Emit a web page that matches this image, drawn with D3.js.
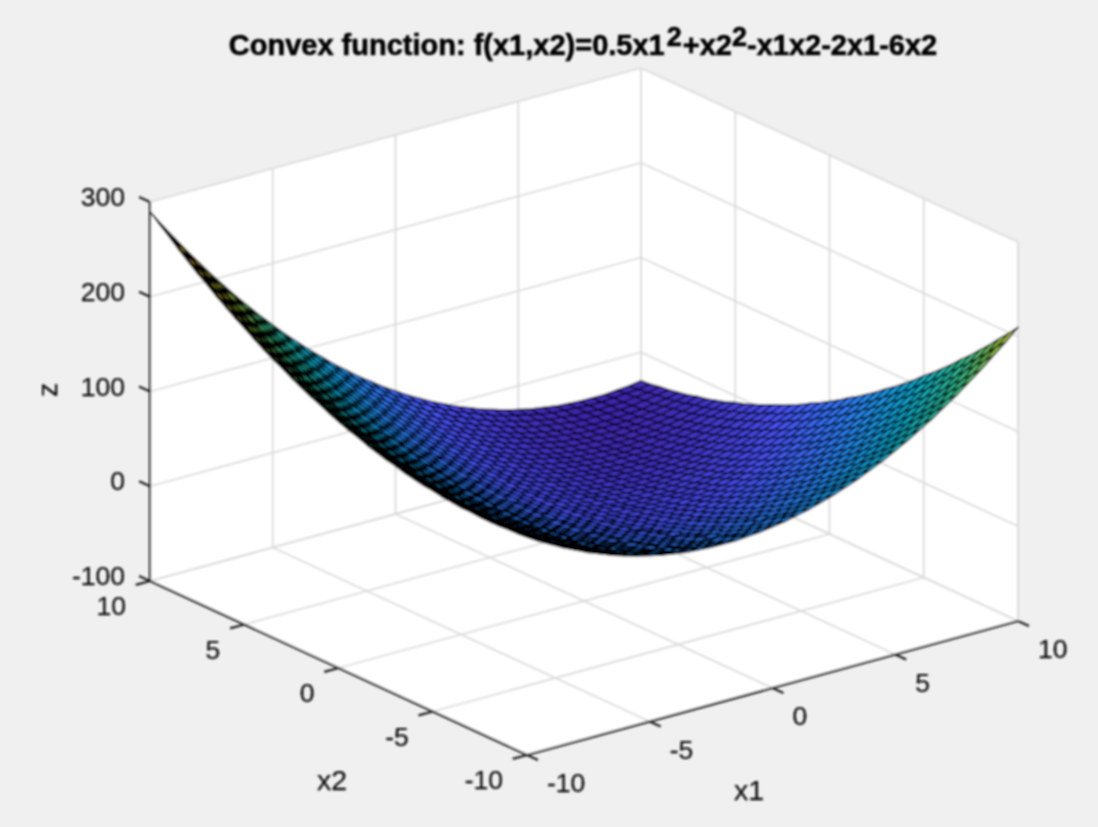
<!DOCTYPE html>
<html><head><meta charset="utf-8">
<script src="https://cdn.jsdelivr.net/npm/d3@7"></script>
<style>html,body{margin:0;padding:0;background:#f0f0f0;overflow:hidden}svg{display:block}text{font-family:"Liberation Sans",Arial,sans-serif}</style>
</head><body>
<script>
const x1Ticks = [-10,-5,0,5,10];
const x2Ticks = [-10,-5,0,5,10];
const zTicks = [-100,0,100,200,300];
const x1Grid = [-10,-9.5,-9,-8.5,-8,-7.5,-7,-6.5,-6,-5.5,-5,-4.5,-4,-3.5,-3,-2.5,-2,-1.5,-1,-0.5,0,0.5,1,1.5,2,2.5,3,3.5,4,4.5,5,5.5,6,6.5,7,7.5,8,8.5,9,9.5,10];
const x2Grid = x1Grid.slice();
// Surface heights: one row per x2 value (-10 to 10), one column per x1 value (-10 to 10)
const zRows = [
[130,122,115,108,102,96,91,86,82,78,75,72,70,68,67,66,66,66,67,68,70,72,75,78,82,86,91,96,102,108,115,122,130,138,147,156,166,176,187,198,210],
[129,121,114,107,100,94,89,84,79,75,72,69,66,64,63,62,61,61,62,63,64,66,69,72,75,79,84,89,94,100,107,114,121,129,138,147,156,166,177,188,199],
[129,120,113,105,99,92,87,81,77,72,69,65,63,60,59,57,57,56,57,57,59,60,63,65,69,72,77,81,87,92,99,105,113,120,129,137,147,156,167,177,189],
[128,120,112,104,97,91,85,79,74,70,66,62,59,57,55,53,52,52,52,52,53,55,57,59,62,66,70,74,79,85,91,97,104,112,120,128,137,147,157,167,178],
[128,119,111,103,96,89,83,77,72,67,63,59,56,53,51,49,48,47,47,47,48,49,51,53,56,59,63,67,72,77,83,89,96,103,111,119,128,137,147,157,168],
[128,119,111,103,95,88,82,76,70,65,61,57,53,50,48,46,44,43,43,43,43,44,46,48,50,53,57,61,65,70,76,82,88,95,103,111,119,128,138,148,158],
[129,119,111,102,95,87,81,74,69,63,59,54,51,47,45,42,41,39,39,38,39,39,41,42,45,47,51,54,59,63,69,74,81,87,95,102,111,119,129,138,149],
[129,120,111,102,94,87,80,73,67,62,57,52,48,45,42,39,37,36,35,34,34,35,36,37,39,42,45,48,52,57,62,67,73,80,87,94,102,111,120,129,139],
[130,120,111,102,94,86,79,72,66,60,55,50,46,42,39,36,34,32,31,30,30,30,31,32,34,36,39,42,46,50,55,60,66,72,79,86,94,102,111,120,130],
[131,121,112,103,94,86,79,72,65,59,54,49,44,40,37,34,31,29,28,27,26,26,27,28,29,31,34,37,40,44,49,54,59,65,72,79,86,94,103,112,121],
[133,122,113,103,95,86,79,71,65,58,53,47,43,38,35,31,29,26,25,23,23,22,23,23,25,26,29,31,35,38,43,47,53,58,65,71,79,86,95,103,113],
[134,124,114,104,95,87,79,71,64,58,52,46,41,37,33,29,26,24,22,20,19,19,19,19,20,22,24,26,29,33,37,41,46,52,58,64,71,79,87,95,104],
[136,125,115,105,96,87,79,71,64,57,51,45,40,35,31,27,24,21,19,17,16,15,15,15,16,17,19,21,24,27,31,35,40,45,51,57,64,71,79,87,96],
[138,127,117,107,97,88,80,72,64,57,51,45,39,34,30,26,22,19,17,15,13,12,12,12,12,13,15,17,19,22,26,30,34,39,45,51,57,64,72,80,88],
[141,129,119,108,99,89,81,72,65,57,51,44,39,33,29,24,21,17,15,12,11,9,9,8,9,9,11,12,15,17,21,24,29,33,39,44,51,57,65,72,81],
[143,132,121,110,100,91,82,73,65,58,51,44,38,33,28,23,19,16,13,10,8,7,6,5,5,6,7,8,10,13,16,19,23,28,33,38,44,51,58,65,73],
[146,134,123,112,102,92,83,74,66,58,51,44,38,32,27,22,18,14,11,8,6,4,3,2,2,2,3,4,6,8,11,14,18,22,27,32,38,44,51,58,66],
[149,137,126,115,104,94,85,76,67,59,52,45,38,32,27,22,17,13,10,7,4,2,1,0,-1,-1,0,1,2,4,7,10,13,17,22,27,32,38,45,52,59],
[153,140,129,117,107,96,87,77,69,60,53,45,39,32,27,21,17,12,9,5,3,0,-1,-3,-3,-4,-3,-3,-1,0,3,5,9,12,17,21,27,32,39,45,53],
[156,144,132,120,109,99,89,79,70,62,54,46,39,33,27,21,16,12,8,4,1,-1,-3,-5,-6,-6,-6,-6,-5,-3,-1,1,4,8,12,16,21,27,33,39,46],
[160,147,135,123,112,101,91,81,72,63,55,47,40,33,27,21,16,11,7,3,0,-3,-5,-7,-8,-9,-9,-9,-8,-7,-5,-3,0,3,7,11,16,21,27,33,40],
[164,151,139,127,115,104,94,84,74,65,57,49,41,34,28,22,16,11,7,3,-1,-4,-6,-8,-10,-11,-11,-11,-11,-10,-8,-6,-4,-1,3,7,11,16,22,28,34],
[169,155,143,130,119,107,97,86,77,67,59,50,43,35,29,22,17,11,7,2,-1,-5,-7,-10,-11,-13,-13,-14,-13,-13,-11,-10,-7,-5,-1,2,7,11,17,22,29],
[173,160,147,134,122,111,100,89,79,70,61,52,44,37,30,23,17,12,7,2,-2,-5,-8,-11,-13,-14,-15,-16,-16,-15,-14,-13,-11,-8,-5,-2,2,7,12,17,23],
[178,164,151,138,126,114,103,92,82,72,63,54,46,38,31,24,18,12,7,2,-2,-6,-9,-12,-14,-16,-17,-18,-18,-18,-17,-16,-14,-12,-9,-6,-2,2,7,12,18],
[183,169,156,143,130,118,107,96,85,75,66,57,48,40,33,26,19,13,8,3,-2,-6,-9,-12,-15,-17,-18,-19,-20,-20,-19,-18,-17,-15,-12,-9,-6,-2,3,8,13],
[189,174,161,147,135,122,111,99,89,78,69,59,51,42,35,27,21,14,9,3,-1,-6,-9,-13,-15,-18,-19,-21,-21,-22,-21,-21,-19,-18,-15,-13,-9,-6,-1,3,9],
[194,180,166,152,139,127,115,103,92,82,72,62,53,45,37,29,22,16,10,4,-1,-5,-9,-13,-16,-18,-20,-22,-23,-23,-23,-23,-22,-20,-18,-16,-13,-9,-5,-1,4],
[200,185,171,157,144,131,119,107,96,85,75,65,56,47,39,31,24,17,11,5,0,-5,-9,-13,-16,-19,-21,-23,-24,-25,-25,-25,-24,-23,-21,-19,-16,-13,-9,-5,0],
[206,191,177,163,149,136,124,112,100,89,79,69,59,50,42,34,26,19,13,7,1,-4,-8,-12,-16,-19,-21,-23,-25,-26,-26,-26,-26,-25,-23,-21,-19,-16,-12,-8,-4],
[213,197,183,168,155,141,129,116,105,93,83,72,63,53,45,36,29,21,15,8,3,-3,-7,-12,-15,-19,-21,-24,-25,-27,-27,-28,-27,-27,-25,-24,-21,-19,-15,-12,-7],
[219,204,189,174,160,147,134,121,109,98,87,76,66,57,48,39,31,24,17,10,4,-1,-6,-11,-15,-18,-21,-24,-26,-27,-28,-29,-29,-28,-27,-26,-24,-21,-18,-15,-11],
[226,210,195,180,166,152,139,126,114,102,91,80,70,60,51,42,34,26,19,12,6,0,-5,-10,-14,-18,-21,-24,-26,-28,-29,-30,-30,-30,-29,-28,-26,-24,-21,-18,-14],
[233,217,202,187,172,158,145,132,119,107,96,85,74,64,55,46,37,29,22,15,8,2,-3,-8,-13,-17,-20,-23,-26,-28,-29,-30,-31,-31,-30,-29,-28,-26,-23,-20,-17],
[241,224,209,193,179,164,151,137,125,112,101,89,79,68,59,49,41,32,25,17,11,4,-1,-7,-11,-16,-19,-23,-25,-28,-29,-31,-31,-32,-31,-31,-29,-28,-25,-23,-19],
[248,232,216,200,185,171,157,143,130,118,106,94,83,73,63,53,44,36,28,20,13,7,1,-5,-10,-14,-18,-22,-25,-27,-29,-31,-32,-32,-32,-32,-31,-29,-27,-25,-22],
[256,239,223,207,192,177,163,149,136,123,111,99,88,77,67,57,48,39,31,23,16,9,3,-3,-8,-13,-17,-21,-24,-27,-29,-31,-32,-33,-33,-33,-32,-31,-29,-27,-24],
[264,247,231,215,199,184,170,156,142,129,117,105,93,82,72,62,52,43,35,27,19,12,6,0,-6,-11,-15,-19,-23,-26,-28,-30,-32,-33,-33,-33,-33,-32,-30,-28,-26],
[273,255,239,222,207,191,177,162,149,135,123,110,99,87,77,66,57,47,39,30,23,15,9,2,-3,-9,-13,-18,-21,-25,-27,-30,-31,-33,-33,-34,-33,-33,-31,-30,-27],
[281,264,247,230,214,199,184,169,155,142,129,116,104,93,82,71,61,52,43,34,26,19,12,5,-1,-6,-11,-16,-20,-23,-26,-29,-31,-32,-33,-34,-34,-33,-32,-31,-29],
[290,272,255,238,222,206,191,176,162,148,135,122,110,98,87,76,66,56,47,38,30,22,15,8,2,-4,-9,-14,-18,-22,-25,-28,-30,-32,-33,-34,-34,-34,-33,-32,-30]
];
const parulaStops = ["#3e26a8","#4852f4","#2d87f7","#12b1d6","#37c897","#abc739","#fec338","#f9fb15"];

const W = 1098, H = 827;
// orthographic projection of the three axes, expressed as scales (pixel offsets from the -10,-10 corner)
const x1ToX = d3.scaleLinear().domain([-10,10]).range([0,491]);
const x1ToY = d3.scaleLinear().domain([-10,10]).range([0,-134]);
const x2ToX = d3.scaleLinear().domain([-10,10]).range([0,-377]);
const x2ToY = d3.scaleLinear().domain([-10,10]).range([0,-174]);
const zToY  = d3.scaleLinear().domain([-100,300]).range([0,-379]);
const originX = 527, originY = 755;
const px = (a,b,c) => [originX + x1ToX(a) + x2ToX(b), originY + x1ToY(a) + x2ToY(b) + zToY(c)];

const zFlat = zRows.flat();
const color = d3.scaleLinear()
  .domain(d3.range(parulaStops.length).map(i => d3.min(zFlat) + (d3.max(zFlat)-d3.min(zFlat))*i/(parulaStops.length-1)))
  .range(parulaStops).interpolate(d3.interpolateRgb);

const svg = d3.select("body").append("svg").attr("width",W).attr("height",H);
const defs = svg.append("defs");
const soft = (id, sd) => defs.append("filter").attr("id",id)
  .attr("filterUnits","userSpaceOnUse").attr("x",0).attr("y",0).attr("width",W).attr("height",H)
  .append("feGaussianBlur").attr("stdDeviation",sd);
soft("softMark",0.85);
soft("softText",0.85);
const root = svg.append("g");
root.append("rect").attr("width",W).attr("height",H).attr("fill","#f0f0f0");
const marks = root.append("g").attr("filter","url(#softMark)");
const texts = root.append("g").attr("filter","url(#softText)");

const line = d3.line();
// white walls and floor
marks.append("path").attr("fill","#fff").attr("d", line([
  px(-10,10,-100), px(-10,10,300), px(10,10,300), px(10,-10,300), px(10,-10,-100), px(-10,-10,-100)
])+"Z");

// grid
const gridG = marks.append("g").attr("fill","none").attr("stroke","#dadada").attr("stroke-width",1.8);
const seg = (a,b) => gridG.append("path").attr("d", line([a,b]));
x1Ticks.forEach(t => { seg(px(t,-10,-100),px(t,10,-100)); seg(px(t,10,-100),px(t,10,300)); });
x2Ticks.forEach(t => { seg(px(-10,t,-100),px(10,t,-100)); seg(px(10,t,-100),px(10,t,300)); });
zTicks.forEach(t => { seg(px(-10,10,t),px(10,10,t)); seg(px(10,10,t),px(10,-10,t)); });

// surface, painted from the far corner to the near corner
const surf = marks.append("g").attr("stroke","#000").attr("stroke-width",1.3).attr("stroke-linejoin","round");
for (let j = x2Grid.length-2; j >= 0; j--) {
  for (let i = x1Grid.length-2; i >= 0; i--) {
    surf.append("path")
      .attr("fill", color(zRows[j][i]))
      .attr("d", line([
        px(x1Grid[i],x2Grid[j],zRows[j][i]),
        px(x1Grid[i+1],x2Grid[j],zRows[j][i+1]),
        px(x1Grid[i+1],x2Grid[j+1],zRows[j+1][i+1]),
        px(x1Grid[i],x2Grid[j+1],zRows[j+1][i])
      ])+"Z");
  }
}

// axes
const axisG = marks.append("g").attr("fill","none").attr("stroke","#1c1c1c").attr("stroke-width",2.2);
const aseg = (a,b) => axisG.append("path").attr("d", line([a,b]));
aseg(px(-10,10,-100),px(-10,10,300));
aseg(px(-10,10,-100),px(-10,-10,-100));
aseg(px(-10,-10,-100),px(10,-10,-100));
const tickLen = 0.58;
zTicks.forEach(t => aseg(px(-10,10,t),px(-10,10+tickLen,t)));
x2Ticks.forEach(t => aseg(px(-10,t,-100),px(-10-tickLen,t,-100)));
x1Ticks.forEach(t => aseg(px(t,-10,-100),px(t,-10-tickLen,-100)));

const label = (x,y,s,anchor,size,extra) => {
  const el = texts.append("text").attr("x",x).attr("y",y).attr("text-anchor",anchor)
    .attr("dominant-baseline","central").attr("font-size",size).attr("fill","#111")
    .attr("stroke","#111").attr("stroke-width",0.25).text(s);
  if (extra) extra(el);
  return el;
};
zTicks.forEach(t => { const p = px(-10,10,t); label(125,p[1]-5,String(t),"end",26.5); });
x2Ticks.forEach(t => { const p = px(-10,t,-100); label(p[0]-24,p[1]+25,String(t),"end",26.5); });
x1Ticks.forEach(t => { const p = px(t,-10,-100); label(p[0]+20,p[1]+28,String(t),"start",26.5); });

label(332,780,"x2","middle",28.5);
label(749,790,"x1","middle",28.5);
label(47,390,"z","middle",28.5, el => el.attr("transform","rotate(-90 47 390)"));

// title
const title = texts.append("text").attr("x",583).attr("y",55).attr("text-anchor","middle")
  .attr("font-size",29).attr("font-weight","bold").attr("fill","#000")
  .attr("stroke","#000").attr("stroke-width",0.6);
title.append("tspan").text("Convex function: f(x1,x2)=0.5x1");
title.append("tspan").attr("dy",-9).attr("dx",2).attr("font-size",27).text("2");
title.append("tspan").attr("dy",9).attr("dx",1).text("+x2");
title.append("tspan").attr("dy",-9).attr("font-size",27).text("2");
title.append("tspan").attr("dy",9).text("-x1x2-2x1-6x2");
</script>
</body></html>
